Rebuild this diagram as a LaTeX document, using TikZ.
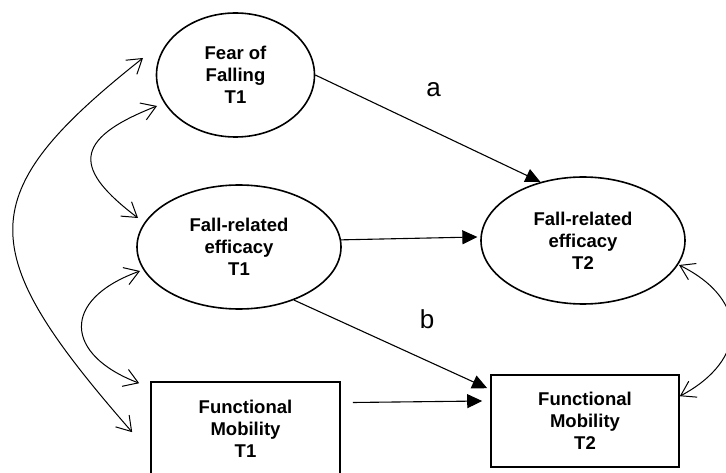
\documentclass[tikz,border=0pt]{standalone}
\usepackage{fontspec}
\setmainfont{Liberation Sans}
\usetikzlibrary{shapes.geometric,arrows.meta,calc}
\begin{document}
\begin{tikzpicture}[x=1pt,y=-1pt,
  lat/.style={ellipse,draw,line width=1.6pt,inner sep=0pt,align=center,font=\fontsize{18.5}{22}\selectfont\bfseries},
  obs/.style={rectangle,draw,line width=1.6pt,inner sep=0pt,align=center,font=\fontsize{18.5}{22}\selectfont\bfseries},
  regarrow/.style={line width=1.1pt,-{Triangle[length=15pt,width=14pt]}},
  cov/.style={line width=1pt,{Straight Barb[length=14pt,width=18pt]}-{Straight Barb[length=14pt,width=18pt]}},
  lab/.style={inner sep=0pt,font=\fontsize{26}{30}\selectfont}]
\useasboundingbox (0,0) rectangle (726,473);
\fill[white] (0,0) rectangle (726,473);
% nodes
\node[lat,minimum width=158pt,minimum height=124pt] (fear) at (235.5,75) {Fear of\\Falling\\T1};
\node[lat,minimum width=204pt,minimum height=124pt] (fre1) at (239,247) {Fall-related\\efficacy\\T1};
\node[lat,minimum width=204pt,minimum height=127pt] (fre2) at (583,240.5) {Fall-related\\efficacy\\T2};
\node[obs,minimum width=189pt,minimum height=93pt] (fm1) at (245.5,428.5) {Functional\\Mobility\\T1};
\node[obs,minimum width=188pt,minimum height=92pt] (fm2) at (585,421) {Functional\\Mobility\\T2};
\node[lab] (la) at (433.5,89.5) {a};
\node[lab] (lb) at (427,319.5) {b};
% directed paths
\draw[regarrow] (fear.east) -- (fre2.126);
\draw[regarrow,shorten >=3pt] (fre1.4) -- (fre2.178);
\draw[regarrow] (fre1.316) -- ([xshift=-3pt,yshift=-14pt]fm2.north west);
\draw[regarrow] ($(fm1.east)+(12,-26)$) -- ($(fm2.west)+(-8,-20)$);
% covariances
\draw[cov] ($(fear.center)+(-78.5,31)$) .. controls (70,140) and (75,170) .. ($(fre1.center)+(-101,-29)$);
\draw[cov] ($(fre1.center)+(-99,24)$) .. controls (60,300) and (65,355) .. ($(fm1.north west)+(-11,2)$);
\draw[cov] ($(fear.center)+(-92.5,-17)$) .. controls (-30,195) and (-27,250) .. ($(fm1.north west)+(-18,51)$);
\draw[cov] ($(fre2.center)+(96,24.5)$) .. controls (750,300) and (748,360) .. ($(fm2.north east)+(0,22)$);
\end{tikzpicture}
\end{document}
